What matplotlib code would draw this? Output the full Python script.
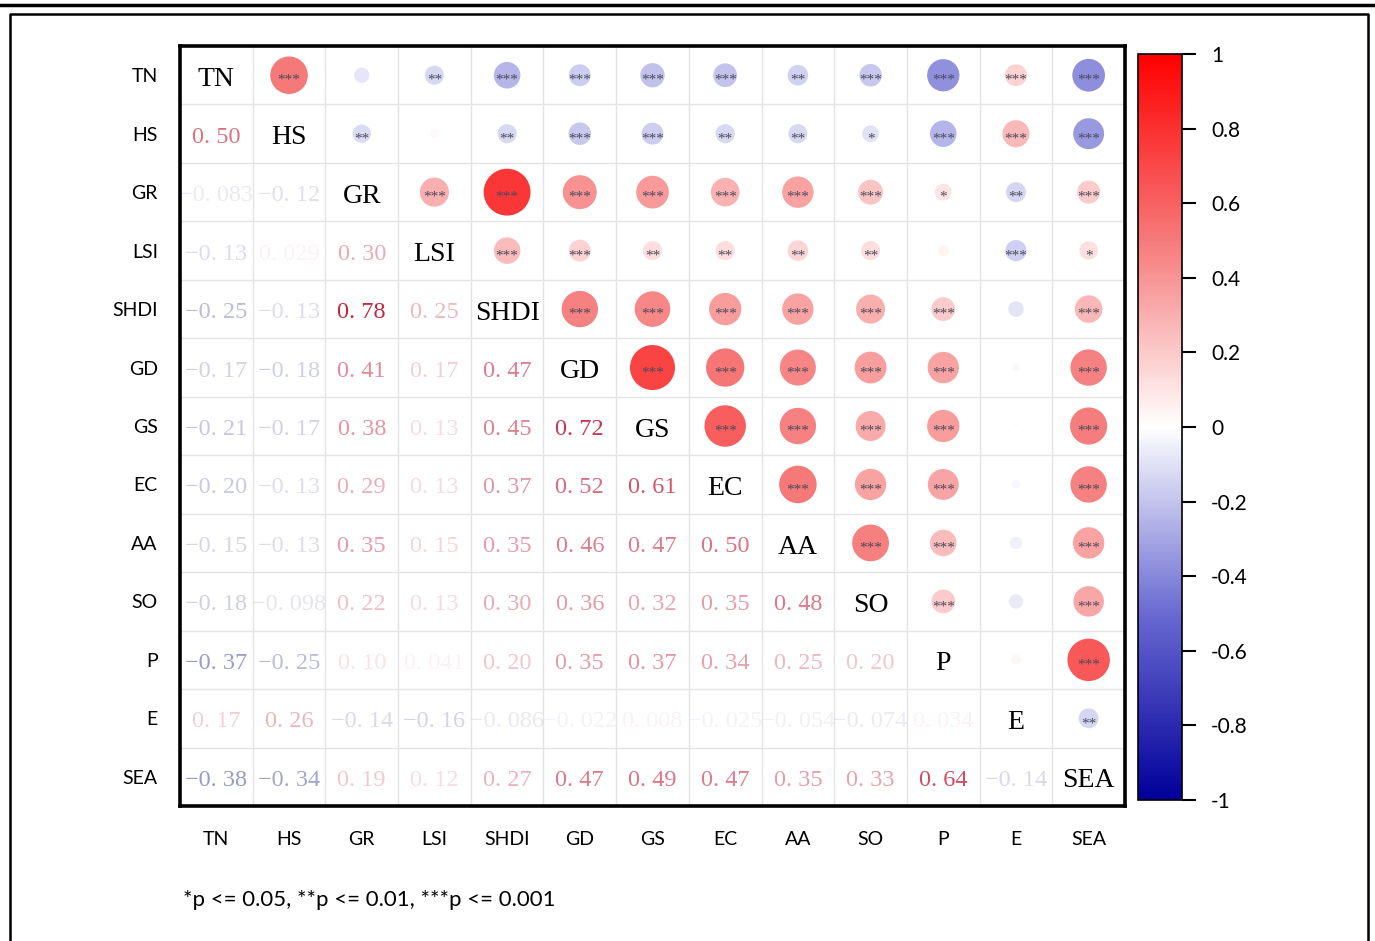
import numpy as np
import matplotlib
matplotlib.use("Agg")
import matplotlib.pyplot as plt
from matplotlib.colors import LinearSegmentedColormap, Normalize
from matplotlib.lines import Line2D
import matplotlib.cm as cm

# Variables
labels = ["TN", "HS", "GR", "LSI", "SHDI", "GD", "GS", "EC", "AA", "SO", "P", "E", "SEA"]

# Lower-triangle correlation coefficients, one list per row
r_HS = [0.50]
r_GR = [-0.083, -0.12]
r_LSI = [-0.13, 0.029, 0.30]
r_SHDI = [-0.25, -0.13, 0.78, 0.25]
r_GD = [-0.17, -0.18, 0.41, 0.17, 0.47]
r_GS = [-0.21, -0.17, 0.38, 0.13, 0.45, 0.72]
r_EC = [-0.20, -0.13, 0.29, 0.13, 0.37, 0.52, 0.61]
r_AA = [-0.15, -0.13, 0.35, 0.15, 0.35, 0.46, 0.47, 0.50]
r_SO = [-0.18, -0.098, 0.22, 0.13, 0.30, 0.36, 0.32, 0.35, 0.48]
r_P = [-0.37, -0.25, 0.10, 0.041, 0.20, 0.35, 0.37, 0.34, 0.25, 0.20]
r_E = [0.17, 0.26, -0.14, -0.16, -0.086, -0.022, 0.008, -0.025, -0.054, -0.074, 0.034]
r_SEA = [-0.38, -0.34, 0.19, 0.12, 0.27, 0.47, 0.49, 0.47, 0.35, 0.33, 0.64, -0.14]

# Significance marks for the upper triangle (row i, columns i+1 .. end)
sig_TN = ["***", "", "**", "***", "***", "***", "***", "**", "***", "***", "***", "***"]
sig_HS = ["**", "", "**", "***", "***", "**", "**", "*", "***", "***", "***"]
sig_GR = ["***", "***", "***", "***", "***", "***", "***", "*", "**", "***"]
sig_LSI = ["***", "***", "**", "**", "**", "**", "", "***", "*"]
sig_SHDI = ["***", "***", "***", "***", "***", "***", "", "***"]
sig_GD = ["***", "***", "***", "***", "***", "", "***"]
sig_GS = ["***", "***", "***", "***", "", "***"]
sig_EC = ["***", "***", "***", "", "***"]
sig_AA = ["***", "***", "", "***"]
sig_SO = ["***", "", "***"]
sig_P = ["", "***"]
sig_E = ["**"]

lower_rows = [[], r_HS, r_GR, r_LSI, r_SHDI, r_GD, r_GS, r_EC, r_AA, r_SO, r_P, r_E, r_SEA]
sig_rows = [sig_TN, sig_HS, sig_GR, sig_LSI, sig_SHDI, sig_GD, sig_GS, sig_EC, sig_AA, sig_SO, sig_P, sig_E, []]

n = len(labels)
R = np.eye(n)
for i, row in enumerate(lower_rows):
    for j, v in enumerate(row):
        R[i, j] = v
        R[j, i] = v
S = [["" for _ in range(n)] for _ in range(n)]
for i, row in enumerate(sig_rows):
    for k, s in enumerate(row):
        S[i][i + 1 + k] = s

cmap = LinearSegmentedColormap.from_list(
    "corr", [(0.0, "#00009a"), (0.25, "#6a6ad2"), (0.5, "#ffffff"), (0.75, "#f67a7a"), (1.0, "#ff0000")])
norm = Normalize(-1, 1)


def fmt(v):
    s = f"{v:.2f}" if abs(v) >= 0.1 else f"{v:.3f}"
    return s.replace(".", ". ").replace("-", "\u2212")


fig = plt.figure(figsize=(13.75, 9.41), dpi=100)

# Outer frame
fig.add_artist(Line2D([0, 1], [1 - 5 / 941] * 2, transform=fig.transFigure, color="black", lw=2.5))
fig.add_artist(Line2D([10 / 1375, 10 / 1375, 1368 / 1375, 1368 / 1375], [0, 1 - 14 / 941, 1 - 14 / 941, 0],
                      transform=fig.transFigure, color="black", lw=1.8))

ax = fig.add_axes([180 / 1375, 1 - 806 / 941, 945 / 1375, 760 / 941])
ax.set_xlim(-0.5, n - 0.5)
ax.set_ylim(n - 0.5, -0.5)
ax.set_xticks(np.arange(n))
ax.set_yticks(np.arange(n))
ax.set_xticklabels(labels, family="Lato", fontsize=14)
ax.set_yticklabels(labels, family="Lato", fontsize=14)
ax.tick_params(axis="y", length=0, pad=16)
ax.tick_params(axis="x", length=0, pad=18)
ax.set_xticks(np.arange(-0.5, n, 1), minor=True)
ax.set_yticks(np.arange(-0.5, n, 1), minor=True)
ax.tick_params(which="minor", length=0)
ax.grid(which="minor", color="#e4e4e8", lw=1)
ax.grid(which="major", visible=False)
for sp in ax.spines.values():
    sp.set_linewidth(2.6)

# Upper triangle: circles (area proportional to |r|) with significance marks
xs, ys, vals = [], [], []
for i in range(n):
    for j in range(i + 1, n):
        xs.append(j)
        ys.append(i)
        vals.append(R[i, j])
vals = np.array(vals)
ax.scatter(xs, ys, s=1459 * np.abs(vals), c=vals, cmap=cmap, norm=norm, edgecolors="none", zorder=3)
for i in range(n):
    for j in range(i + 1, n):
        if S[i][j]:
            ax.text(j, i + 0.09, S[i][j], ha="center", va="center", fontsize=11, color="#4a4a5a",
                    family="Liberation Serif", zorder=4)

# Diagonal: variable names
for i, lab in enumerate(labels):
    ax.text(i, i + 0.07, lab, ha="center", va="center", fontsize=20, family="Liberation Serif",
            color="black", zorder=4)

# Lower triangle: coefficient values
for i in range(n):
    for j in range(i):
        v = R[i, j]
        base = "#c4203c" if v > 0 else "#2a2a8c"
        alpha = float(np.clip(abs(v) * 1.25, 0.06, 1.0))
        ax.text(j, i + 0.06, fmt(v), ha="center", va="center", fontsize=17.5, family="Liberation Serif",
                color=base, alpha=alpha, zorder=4)

# Colour bar
cax = fig.add_axes([1138 / 1375, 1 - 800 / 941, 44 / 1375, 746 / 941])
cb = fig.colorbar(cm.ScalarMappable(norm=norm, cmap=cmap), cax=cax)
cb.set_ticks([1, 0.8, 0.6, 0.4, 0.2, 0, -0.2, -0.4, -0.6, -0.8, -1])
cb.set_ticklabels(["1", "0.8", "0.6", "0.4", "0.2", "0", "-0.2", "-0.4", "-0.6", "-0.8", "-1"])
cb.ax.tick_params(length=10, width=1.5, pad=11, labelsize=15)
for t in cb.ax.get_yticklabels():
    t.set_family("Lato")
cb.outline.set_linewidth(1.2)

fig.text(183 / 1375, 1 - 900 / 941, "*p <= 0.05, **p <= 0.01, ***p <= 0.001", family="Lato", fontsize=16,
         va="center", ha="left")

fig.savefig("out.png", dpi=100)
